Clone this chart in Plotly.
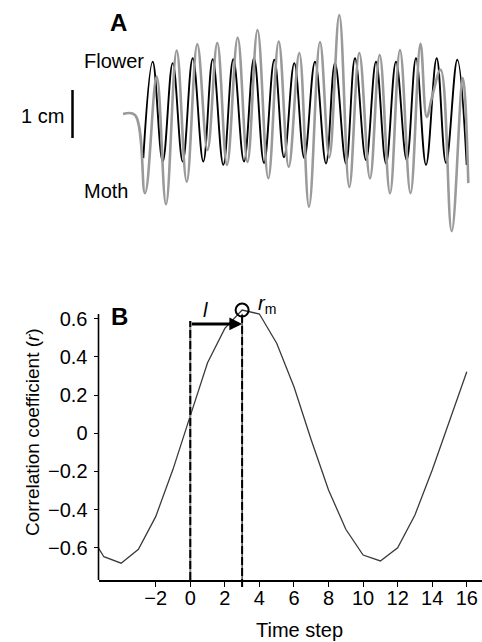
import plotly.graph_objects as go

# ---------------- Panel A: flower and moth lateral position ----------------
# turning points of each trace (time in s, position in cm)
flower_t = [1.000, 1.463, 1.956, 2.448, 2.941, 3.433, 3.956, 4.419, 4.941, 5.433,
            5.961, 6.453, 6.946, 7.453, 7.931, 8.438, 8.931, 9.458, 10.000, 10.443,
            10.985, 11.429, 11.970, 12.463, 12.956, 13.448, 13.975, 14.433, 14.926,
            15.453, 15.911, 16.468, 16.931]
flower_pos = [-0.92, 1.09, -0.99, 1.06, -0.99, 1.16, -0.99, 1.14, -1.06, 1.14,
              -0.99, 1.16, -1.02, 1.13, -0.90, 1.06, -0.92, 1.09, -1.03, 1.06,
              -1.03, 1.16, -0.96, 1.09, -1.03, 1.09, -0.96, 1.16, -1.06,
              1.16, -1.02, 1.13, -1.06]

moth_t = [0.000, 0.591, 1.084, 1.660, 2.118, 2.645, 3.138, 3.660, 4.163, 4.645,
          5.123, 5.650, 6.133, 6.626, 7.158, 7.670, 8.163, 8.685, 9.163, 9.704,
          10.163, 10.655, 11.148, 11.640, 12.167, 12.645, 13.153, 13.645, 14.163,
          14.655, 14.961, 15.222, 15.650, 16.192, 16.739, 17.010]
moth_pos = [0.00, -0.02, -1.65, 0.78, -1.88, 1.32, -1.41, 1.45, -0.75, 1.48,
            -1.06, 1.59, -1.00, 1.75, -1.34, 1.51, -1.10, 1.27, -1.93, 1.50,
            -0.90, 2.06, -1.52, 1.27, -1.34, 1.23, -1.65, 1.33, -1.65,
            1.46, -0.06, 0.35, 0.92, -2.44, 0.75, -1.44]

# ---------------- Panel B: cross-correlation vs. lag ----------------
lag_steps = list(range(-6, 17))
corr_r = [-0.50, -0.647, -0.681, -0.608, -0.437, -0.189, 0.091, 0.370, 0.550,
          0.646, 0.625, 0.472, 0.244, -0.035, -0.297, -0.503, -0.638, -0.669,
          -0.600, -0.428, -0.192, 0.061, 0.323]
lag_ticks = [-2, 0, 2, 4, 6, 8, 10, 12, 14, 16]
r_ticks = [-0.6, -0.4, -0.2, 0, 0.2, 0.4, 0.6]
r_ticktext = ["\u22120.6", "\u22120.4", "\u22120.2", "0", "0.2", "0.4", "0.6"]

W, H = 482, 642
FONT = "Liberation Sans, Arial, Helvetica, sans-serif"
FS = 20


def px(x):
    return x / W


def py(y):
    return 1 - y / H


def label(text, x, y, xanchor="center", **kw):
    return dict(text=text, x=px(x), y=py(y), xref="paper", yref="paper",
                xanchor=xanchor, yanchor="middle", showarrow=False, **kw)


# peak of the correlation function
i_max = max(range(len(corr_r)), key=lambda i: corr_r[i])
lag_max, r_max = lag_steps[i_max], corr_r[i_max]

xB_range = [-5.31, 16.88]
yB_range = [-0.769, 0.751]

fig = go.Figure()

# panel A traces
fig.add_trace(go.Scatter(x=flower_t, y=flower_pos, mode="lines",
                         line=dict(color="black", width=1.9, shape="spline", smoothing=1.1),
                         xaxis="x", yaxis="y", hoverinfo="skip", showlegend=False))
fig.add_trace(go.Scatter(x=moth_t, y=moth_pos, mode="lines",
                         line=dict(color="#9a9a9a", width=2.6, shape="spline", smoothing=1.1),
                         xaxis="x", yaxis="y", hoverinfo="skip", showlegend=False))

# panel B curve
fig.add_trace(go.Scatter(x=lag_steps, y=corr_r, mode="lines",
                         line=dict(color="#3a3a3a", width=1.3),
                         xaxis="x2", yaxis="y2", hoverinfo="skip", showlegend=False))
# circle around the maximum
fig.add_trace(go.Scatter(x=[lag_max], y=[r_max], mode="markers",
                         marker=dict(symbol="circle-open", size=13, color="black",
                                     line=dict(color="black", width=2)),
                         cliponaxis=False, xaxis="x2", yaxis="y2",
                         hoverinfo="skip", showlegend=False))

arrow_y = 0.573
top_frac = (r_max - 0.02 - yB_range[0]) / (yB_range[1] - yB_range[0])
shapes = [
    # 1 cm scale bar
    dict(type="line", xref="paper", yref="y", x0=px(72.5), x1=px(72.5), y0=-0.5, y1=0.5,
         line=dict(color="black", width=2.5)),
    # y-axis line of panel B
    dict(type="line", xref="paper", yref="y2", x0=px(98.5), x1=px(98.5),
         y0=yB_range[0], y1=0.625, line=dict(color="black", width=1.6)),
    # zero-lag reference line
    dict(type="line", xref="x2", yref="y2", x0=0, x1=0, y0=yB_range[0], y1=arrow_y + 0.015,
         line=dict(color="#8a8a8a", width=2)),
    dict(type="line", xref="x2", yref="y2", x0=0, x1=0, y0=yB_range[0], y1=arrow_y + 0.015,
         line=dict(color="black", width=2, dash="8px,3px")),
    # lag of maximum correlation
    dict(type="line", xref="x2", yref="y2 domain", x0=lag_max, x1=lag_max, y0=-0.024,
         y1=top_frac, line=dict(color="black", width=1)),
    dict(type="line", xref="x2", yref="y2 domain", x0=lag_max, x1=lag_max, y0=-0.024,
         y1=top_frac, line=dict(color="black", width=2, dash="8px,3px")),
]

annotations = [
    label("<b>A</b>", 118, 23, font=dict(size=24)),
    label("<b>B</b>", 119, 316, font=dict(size=24)),
    label("Flower", 146, 61, xanchor="right"),
    label("Moth", 82, 191, xanchor="left"),
    label("1 cm", 66, 116, xanchor="right"),
    # lag arrow
    dict(text="", x=lag_max, y=arrow_y, ax=0, ay=arrow_y, xref="x2", yref="y2",
         axref="x2", ayref="y2", showarrow=True, arrowhead=2, arrowsize=0.85,
         arrowwidth=3, arrowcolor="black", standoff=0),
    dict(text="<i>l</i>", x=0.86, y=arrow_y + 0.075, xref="x2", yref="y2",
         xanchor="center", yanchor="middle", showarrow=False),
    dict(text="<i>r</i><sub>m</sub>", x=lag_max + 0.82, y=r_max + 0.03, xref="x2", yref="y2",
         xanchor="left", yanchor="middle", showarrow=False),
    # axis titles
    label("Time step", 299, 630),
    label("Correlation coefficient (<i>r</i>)", 32, 432, textangle=-90,
          font=dict(size=19)),
]

fig.update_layout(
    width=W, height=H,
    margin=dict(l=0, r=0, t=0, b=0),
    paper_bgcolor="white", plot_bgcolor="white",
    font=dict(family=FONT, size=FS, color="black"),
    showlegend=False,
    xaxis=dict(domain=[0, 1], range=[-123 / 20.3, (W - 123) / 20.3], visible=False,
               anchor="y"),
    yaxis=dict(domain=[py(250), 1], range=[(114 - 250) / 48, 114 / 48], visible=False,
               anchor="x"),
    xaxis2=dict(domain=[px(98.5), 1], range=xB_range, anchor="y2",
                showline=True, linecolor="black", linewidth=1.6,
                showgrid=False, zeroline=False,
                tickmode="array", tickvals=lag_ticks,
                ticktext=[("\u2212" + str(-v)) if v < 0 else str(v) for v in lag_ticks],
                ticks="outside", ticklen=5, tickwidth=1.3, tickcolor="black",
                ticklabelstandoff=-6),
    yaxis2=dict(domain=[py(580), py(290)], range=yB_range, anchor="x2",
                showline=False, showgrid=False, zeroline=False,
                tickmode="array", tickvals=r_ticks, ticktext=r_ticktext,
                ticks="outside", ticklen=4, tickwidth=1.3, tickcolor="black",
                ticklabelstandoff=2),
    shapes=shapes,
    annotations=annotations,
)

fig.write_html("out.html")
